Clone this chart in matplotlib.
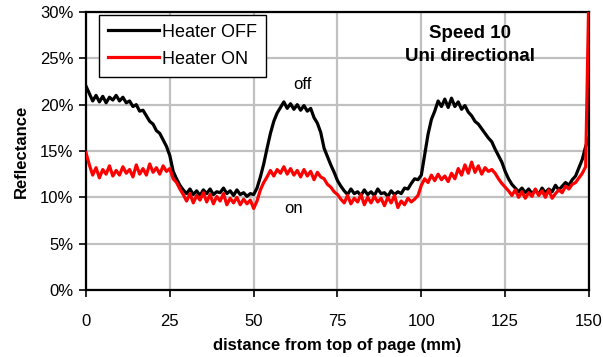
import numpy as np
import matplotlib
matplotlib.use("Agg")
import matplotlib.pyplot as plt
from matplotlib.ticker import FuncFormatter

plt.rcParams["font.family"] = ["Liberation Sans", "DejaVu Sans"]

# distance from top of page, 1 mm steps (0..150)
distance_mm = np.arange(0, 151)

heater_off = [
    22.0, 21.2, 20.4, 21.0, 20.3, 20.9, 20.2, 20.8, 20.5, 21.0,
    20.4, 20.8, 20.2, 20.4, 19.8, 20.0, 19.3, 19.4, 18.8, 18.2,
    17.9, 17.2, 16.9, 16.2, 15.5, 14.5, 12.8, 12.0, 11.3, 10.8,
    10.4, 10.9, 10.3, 10.7, 10.2, 10.8, 10.4, 10.9, 10.3, 10.6,
    10.5, 11.0, 10.4, 10.7, 10.2, 10.8, 10.3, 10.5, 10.1, 10.4,
    10.3, 11.0, 12.2, 13.6, 15.3, 16.9, 18.2, 19.1, 19.7, 20.3,
    19.6, 20.1, 19.5, 20.0, 19.4, 19.9, 19.3, 19.6, 18.6, 18.0,
    17.0, 15.3, 14.4, 13.5, 12.7, 11.8, 11.2, 10.7, 10.3, 10.9,
    10.4, 10.6, 10.2, 10.8, 10.3, 10.6, 10.2, 10.9, 10.4, 10.5,
    10.1, 10.7, 10.3, 10.6, 10.4, 11.0, 10.9, 11.5, 12.0, 11.9,
    12.4, 14.6, 16.8, 18.4, 19.3, 20.4, 19.8, 20.6, 19.7, 20.7,
    19.8, 20.3, 19.5, 19.9, 19.2, 18.8, 18.2, 17.9, 17.4, 16.9,
    16.4, 16.0, 15.2, 14.5, 13.8, 12.8, 12.0, 11.4, 11.0, 10.6,
    11.0, 10.5, 10.9, 10.4, 10.8, 10.3, 11.0, 10.5, 10.9, 10.6,
    11.3, 10.8, 11.2, 11.6, 11.3, 11.9, 12.3, 13.2, 14.1, 15.5,
    16.5,
]

heater_on = [
    14.8, 13.5, 12.4, 13.2, 12.1, 13.0, 12.5, 13.4, 12.3, 12.9,
    12.4, 13.3, 12.6, 13.0, 12.2, 13.5, 12.5, 13.1, 12.4, 13.6,
    12.7, 13.2, 12.5, 13.4, 12.8, 13.1, 12.0, 11.6, 10.9, 10.3,
    9.6, 10.4, 9.4, 10.2, 9.7, 10.5, 9.5, 10.3, 9.3, 10.1,
    9.6, 10.4, 9.2, 9.9, 9.4, 10.0, 9.2, 9.8, 9.3, 9.7,
    8.8, 9.6, 10.8, 11.6, 12.2, 12.9, 12.3, 13.0, 12.6, 13.3,
    12.5, 13.1, 12.4, 12.9, 12.2, 13.0, 12.3, 12.8, 11.9, 12.7,
    12.2, 12.0, 11.4, 11.1, 10.6, 10.3, 9.8, 9.4, 10.2, 9.3,
    9.9, 9.5, 10.3, 9.2, 10.0, 9.4, 10.1, 9.5, 9.9, 9.1,
    10.0, 9.4, 10.2, 8.9, 9.6, 9.2, 9.9, 9.5, 9.8, 10.2,
    11.3, 12.0, 11.6, 12.4, 11.8, 12.5, 11.9, 12.3, 11.7, 12.6,
    12.0, 13.1, 12.4, 13.5, 12.6, 13.8, 12.7, 13.4, 12.5, 13.2,
    12.8, 13.0, 12.6, 12.0, 11.5, 11.1, 10.7, 10.2, 10.8, 10.0,
    10.6, 9.9, 10.5, 10.1, 10.9, 10.2, 10.7, 10.0, 10.8, 9.9,
    10.4, 10.8, 10.5, 11.2, 10.9, 11.4, 11.6, 12.1, 12.6, 13.3,
    33.0,
]

x_ticks = [0, 25, 50, 75, 100, 125, 150]
y_ticks = [0, 5, 10, 15, 20, 25, 30]

fig = plt.figure(figsize=(6.03, 3.57), dpi=100)
ax = fig.add_axes([0.1426, 0.1877, 0.8342, 0.7787])

ax.plot(distance_mm, heater_off, color="black", lw=2.3, label="Heater OFF", zorder=3)
ax.plot(distance_mm, heater_on, color="#ff0000", lw=2.3, label="Heater ON", zorder=4)

ax.set_xlim(0, 150)
ax.set_ylim(0, 30)
ax.set_xticks(x_ticks)
ax.set_yticks(y_ticks)
ax.yaxis.set_major_formatter(FuncFormatter(lambda v, _: f"{v:.0f}%"))
ax.tick_params(direction="out", length=5, width=1.2, labelsize=12, pad=4)
ax.tick_params(axis="x", pad=12)
ax.grid(True, color="#c0c0c0", lw=1.6, zorder=0)
ax.set_axisbelow(True)
for sp in ax.spines.values():
    sp.set_linewidth(1.6)
    sp.set_color("black")

ax.set_xlabel("distance from top of page (mm)", fontsize=12, fontweight="bold", labelpad=7)
ax.set_ylabel("Reflectance", fontsize=12, fontweight="bold", labelpad=8)

ax.text(114.5, 26.4, "Speed 10\nUni directional", ha="center", va="center",
        fontsize=13.5, fontweight="bold", linespacing=1.45)
ax.text(64.4, 22.2, "off", ha="center", va="center", fontsize=12)
ax.text(62.0, 8.8, "on", ha="center", va="center", fontsize=12)

leg = ax.legend(loc="upper left", bbox_to_anchor=(0.026, 0.99), borderaxespad=0,
                fontsize=13, handlelength=2.8, handletextpad=0.2,
                fancybox=False, framealpha=1, edgecolor="black",
                borderpad=0.5, labelspacing=0.55)
leg.get_frame().set_linewidth(1.0)
for ln in leg.get_lines():
    ln.set_linewidth(2.3)

fig.savefig("out.png", dpi=100, facecolor="white")
